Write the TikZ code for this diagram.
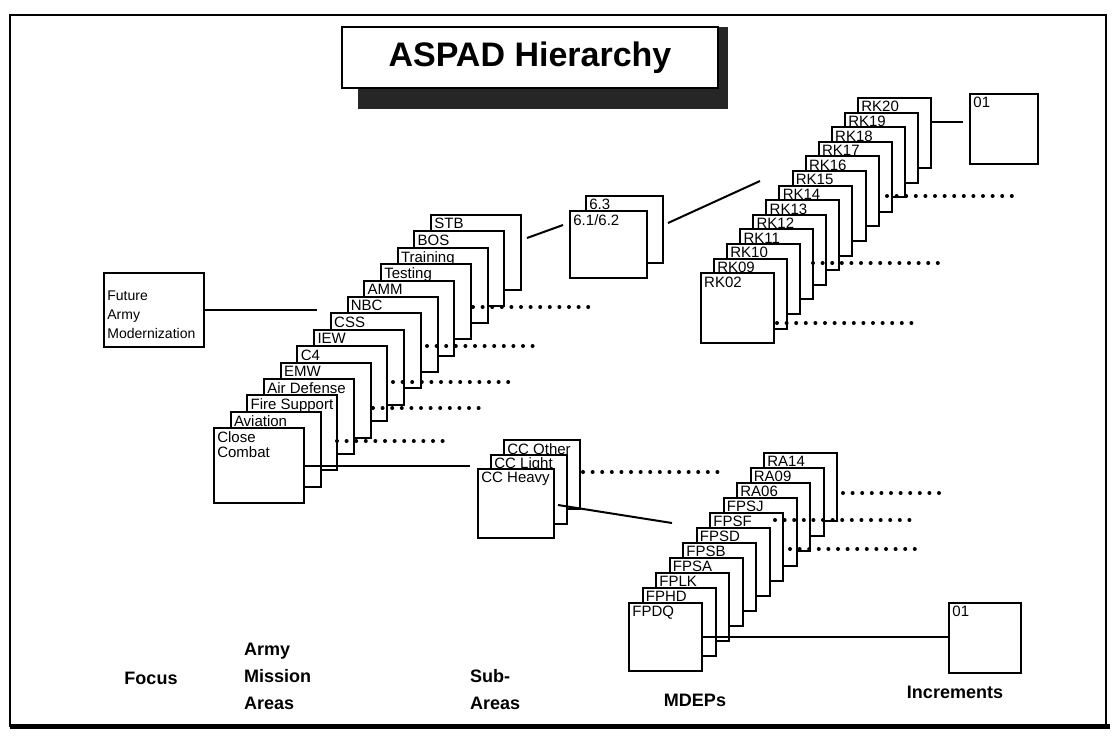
\documentclass[tikz,border=0pt]{standalone}
\usepackage{fontspec}
\setmainfont{Liberation Sans}
\usetikzlibrary{positioning,calc,backgrounds}

\begin{document}
\begin{tikzpicture}[x=0.5pt, y=-0.5pt,
  card/.style={draw, fill=white, line width=1pt, anchor=north west, inner sep=0pt},
  tag/.style={anchor=north west, inner sep=2pt, font=\fontsize{7.5}{7.5}\selectfont, align=left},
  link/.style={line width=1pt},
  dotrow/.style={line width=2pt, line cap=round, dash pattern=on 0pt off 4.8pt},
  caption/.style={font=\bfseries\fontsize{9}{13.5}\selectfont, align=left}
]
  \useasboundingbox (0,0) rectangle (1114,736);
  % frame
  \draw[line width=0.9pt] (10,15) rectangle (1106,726);
  \draw[line width=2.5pt] (10,726) -- (1110,726);

  % title with shadow
  \node[draw, fill=white, line width=0.9pt, minimum width=188pt, minimum height=30.5pt,
        font=\bfseries\fontsize{17}{20}\selectfont] (title) at (530,57.5) {ASPAD Hierarchy};
  \begin{scope}[on background layer]
    \fill[black!85] ($(title.north west)+(17,1)$) rectangle ($(title.south east)+(9,20)$);
  \end{scope}

  % focus
  \node[card, minimum width=50pt, minimum height=37pt,
        label={[tag, font=\fontsize{7}{9.5}\selectfont, yshift=-7pt]north west:{Future\\Army\\Modernization}}]
        (fam) at (103,272) {};

  % army mission areas
  \foreach \lab [count=\i from 0] in {STB,BOS,Training,Testing,AMM,NBC,CSS,IEW,C4,EMW,
      Air Defense,Fire Support,Aviation,{Close\\Combat}}
    \node[card, minimum width=45pt, minimum height=37.5pt, label={[tag]north west:\lab}]
      (ama\i) at ({430-16.7*\i},{214+16.4*\i}) {};

  % 6.x
  \node[card, minimum width=38.5pt, minimum height=33.5pt, label={[tag]north west:6.3}]
    (six0) at (585,195) {};
  \node[card, minimum width=38.5pt, minimum height=33.5pt, label={[tag]north west:6.1/6.2}]
    (six1) at (569,210) {};

  % RK
  \foreach \lab [count=\i from 0] in {RK20,RK19,RK18,RK17,RK16,RK15,RK14,RK13,RK12,RK11,
      RK10,RK09,RK02}
    \node[card, minimum width=36.5pt, minimum height=35pt, label={[tag]north west:\lab}]
      (rk\i) at ({857-13.1*\i},{97+14.6*\i}) {};

  % sub-areas
  \foreach \lab [count=\i from 0] in {CC Other,CC Light,CC Heavy}
    \node[card, minimum width=38pt, minimum height=34.5pt, label={[tag]north west:\lab}]
      (sub\i) at ({503-13*\i},{439+14.5*\i}) {};

  % MDEPs
  \foreach \lab [count=\i from 0] in {RA14,RA09,RA06,FPSJ,FPSF,FPSD,FPSB,FPSA,FPLK,FPHD,FPDQ}
    \node[card, minimum width=36.5pt, minimum height=34pt, label={[tag]north west:\lab}]
      (fp\i) at ({763-13.5*\i},{452+15*\i}) {};

  % increments
  \node[card, minimum width=34pt, minimum height=35pt, label={[tag]north west:01}]
    (inca) at (969,93) {};
  \node[card, minimum width=36pt, minimum height=35pt, label={[tag]north west:01}]
    (incb) at (948,602) {};

  % connectors
  \coordinate (famend) at (317,309);
  \coordinate (stbout) at (527,238);
  \coordinate (sixin) at (563,225);
  \coordinate (sixout) at (668,223);
  \coordinate (rkin) at (760,181);
  \coordinate (rkout) at (930,122);
  \coordinate (incain) at (963,122);
  \coordinate (subin) at (470,465);
  \coordinate (heavyout) at (558,505);
  \coordinate (fpin) at (672,523);

  \draw[link] (fam.east) -- (fam.east -| famend);
  \draw[link] (stbout) -- (sixin);
  \draw[link] (sixout) -- (rkin);
  \draw[link] (rkout) -- (incain);
  \draw[link] (ama13.east) -- (ama13.east -| subin);
  \draw[link] (heavyout) -- (fpin);
  \draw[link] (fp10.east) -- (fp10.east -| incb.west);

  % dotted continuations
  \foreach \xa/\xb/\yy in {473/590/307, 427/542/346, 393/510/382, 373/486/408, 337/452/441,
      887/1018/196, 813/942/263, 777/915/323, 583/723/472,
      843/948/493, 775/912/520, 790/923/549}
    \draw[dotrow] (\xa,\yy) -- (\xb,\yy);

  % level captions
  \node[caption] (lfocus) at (151,678) {Focus};
  \node[caption, anchor=west] (lama) at (237,676) {Army\\Mission\\Areas};
  \node[caption, anchor=west] (lsub) at (463,690) {Sub-\\Areas};
  \node[caption] (lmdep) at (695,700) {MDEPs};
  \node[caption] (linc) at (955,692) {Increments};
\end{tikzpicture}
\end{document}
